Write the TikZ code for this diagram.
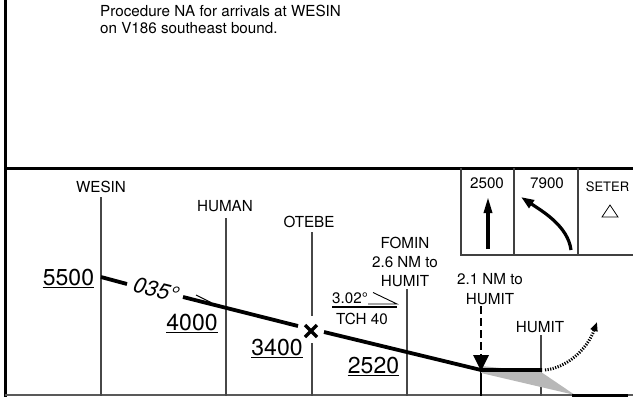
\documentclass[tikz,border=0pt]{standalone}
\usepackage{fontspec}
\setmainfont{TeX Gyre Heros}
\usetikzlibrary{arrows.meta,calc}
\begin{document}
\begin{tikzpicture}[x=1pt,y=-1pt,
  lbl/.style={font=\fontsize{15.2}{16}\selectfont, inner sep=0pt},
  alt/.style={font=\fontsize{23}{24}\selectfont, inner sep=0pt},
  vline/.style={draw=black!72, line width=1.1pt},
  boxline/.style={draw=black!75, line width=1.2pt},
  prof/.style={draw=black, line width=3.8pt},
  uline/.style={draw=black, line width=1.1pt},
]
\useasboundingbox (0,0) rectangle (633,397);
% frame
\draw[line width=3pt] (5,0) -- (5,397);
\draw[line width=3pt] (5,168) -- (633,168);
\draw[black!65, line width=1.8pt] (5,395) -- (633,395);

% note
\node[lbl, anchor=base west] (note1) at (100,16.5) {Procedure NA for arrivals at WESIN};
\node[lbl, anchor=base west] (note2) at (100,33) {on V186 southeast bound.};

% minimum altitude boxes
\coordinate (bx0) at (461,168);
\coordinate (bx0b) at (461,255);
\coordinate (bx1) at (514,168);
\coordinate (bx1b) at (514,255);
\coordinate (bx2) at (578,168);
\coordinate (bx2b) at (578,255);
\coordinate (bxr) at (633,255);
\draw[boxline] (bx0) -- (bx0b) -- (bxr);
\draw[boxline] (bx1) -- (bx1b);
\draw[boxline] (bx2) -- (bx2b);
\node[lbl, anchor=base] (a2500) at (487,188) {2500};
\node[lbl, anchor=base] (a7900) at (547,188) {7900};
\node[lbl, anchor=base, font=\fontsize{13}{14}\selectfont] (seter) at (607.5,191) {SETER};
\coordinate (up0) at (488,249);
\coordinate (up1) at (488,197);
\draw[line width=3.2pt, -{Triangle[length=16pt,width=8pt]}] (up0) -- (up1);
\coordinate (cv0) at (571,250);
\coordinate (cv1) at (521,197);
\draw[line width=3.2pt, -{Triangle[length=13pt,width=9pt]}] (cv0) .. controls (568,226) and (542,211) .. (cv1);
\draw[line width=0.8pt] (602,217) -- (618,217) -- (610,205) -- cycle;

% fix labels and vertical lines
\node[lbl, anchor=base] (wesin) at (101,192) {WESIN};
\node[lbl, anchor=base] (human) at (225,211) {HUMAN};
\node[lbl, anchor=base] (otebe) at (309,227) {OTEBE};
\node[lbl, anchor=base] (fomin) at (405,248) {FOMIN};
\node[lbl, anchor=base] (fomin2) at (405,267) {2.6 NM to};
\node[lbl, anchor=base] (fomin3) at (405,286) {HUMIT};
\node[lbl, anchor=base] (vdp1) at (490,284) {2.1 NM to};
\node[lbl, anchor=base] (vdp2) at (490,304) {HUMIT};
\node[lbl, anchor=base] (humit) at (540,332) {HUMIT};

\coordinate (wesinB) at (101,396);
\coordinate (humanB) at (226,396);
\coordinate (otebeB) at (312,396);
\coordinate (otebeM1) at (312,316);
\coordinate (otebeM2) at (312,343);
\coordinate (fominB) at (407,396);
\coordinate (vdpT) at (481,306);
\coordinate (vdpM) at (481,357);
\coordinate (vdpB) at (481,396);
\coordinate (humitB) at (541,396);

\draw[vline] (101,197) -- (wesinB);
\draw[vline] (226,218) -- (humanB);
\draw[vline] (312,232) -- (otebeM1);
\draw[vline] (otebeM2) -- (otebeB);
\draw[vline] (407,289) -- (fominB);
\draw[vline] (541,335) -- (humitB);
\draw[black, line width=1.1pt, dash pattern=on 8pt off 4pt] (vdpT) -- (vdpM);
\draw[black, line width=1.1pt] (481,370) -- (vdpB);

% gray visual descent wedge and runway
\fill[black!28] (481,366) -- (541,372) -- (575,395) -- (481,373) -- cycle;
\coordinate (rw0) at (572,395.5);
\coordinate (rw1) at (628,395.5);
\draw[line width=3pt] (rw0) -- (rw1);

% profile
\coordinate (w0) at (101,277);
\coordinate (w1) at (127,284);
\coordinate (w2) at (183,297);
\coordinate (f0) at (298,326);
\coordinate (f1) at (324,332);
\coordinate (td) at (481,370);
\coordinate (hm) at (542,370);
\draw[prof] (w0) -- (w1);
\draw[prof] (w2) -- (f0);
\draw[prof] (f1) -- (td) -- (hm);
\node[inner sep=0pt, font=\fontsize{22}{23}\selectfont\itshape, rotate=-14] (crs) at (156,290) {035°};
\coordinate (bar0) at (196,295);
\coordinate (bar1) at (211,302.5);
\draw[line width=1pt] (bar0) -- (bar1);

% VDP arrow
\fill (473,355) -- (489,355) -- (481,371) -- cycle;

% FAF fix symbol
\coordinate (fx) at (311,331);
\draw[line width=3.4pt] ($(fx)+(-6,-6)$) -- ($(fx)+(6,6)$);
\draw[line width=3.4pt] ($(fx)+(6,-6)$) -- ($(fx)+(-6,6)$);

% missed approach dotted arrow
\coordinate (ma0) at (545,370);
\coordinate (ma1) at (597,322);
\draw[line width=3pt, dash pattern=on 1.2pt off 1.4pt, -{Triangle[length=9pt,width=7pt]}] (ma0) .. controls (566,368) and (587,350) .. (ma1);

% altitudes
\node[alt, anchor=base] (h5500) at (68.5,285) {5500};
\node[alt, anchor=base] (h4000) at (192,330) {4000};
\node[alt, anchor=base] (h3400) at (277,355) {3400};
\node[alt, anchor=base] (h2520) at (373.5,373) {2520};
\foreach \n in {h5500,h4000,h3400,h2520}{
  \draw[uline] ([yshift=-2.5pt]\n.base west) -- ([yshift=-2.5pt]\n.base east);
}

% glide slope
\node[lbl, anchor=base west] (gs) at (332,303) {3.02°};
\node[lbl, anchor=base] (tch) at (362,324) {TCH 40};
\draw[uline] (332,307) -- (397,307);
\draw[line width=0.9pt] (373,292.5) -- (397,304) -- (368,304);
\end{tikzpicture}
\end{document}
